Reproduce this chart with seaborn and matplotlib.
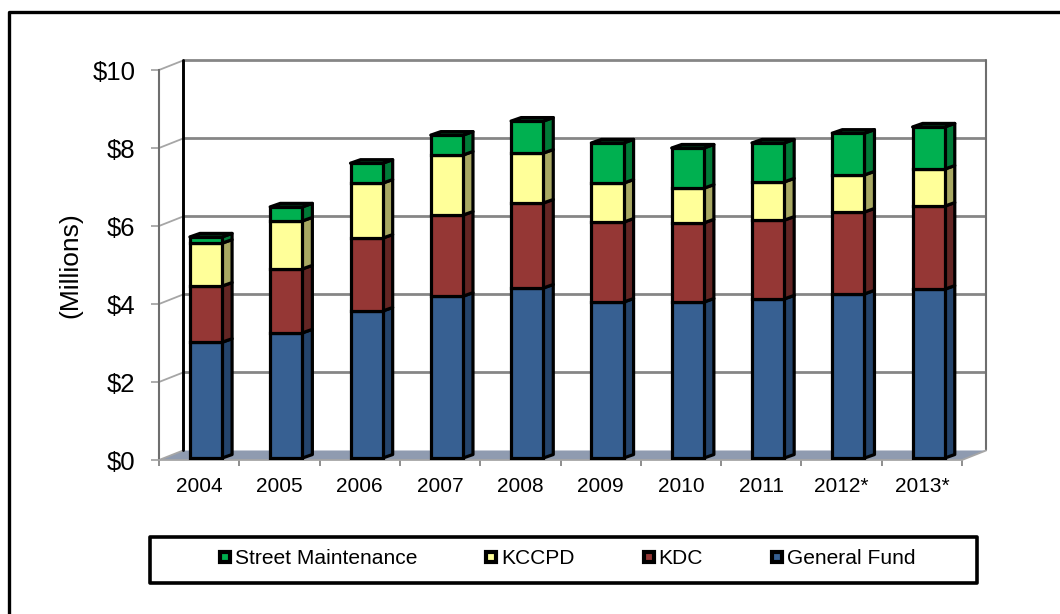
import numpy as np
import pandas as pd
import seaborn as sns
import matplotlib
matplotlib.use("Agg")
import matplotlib.pyplot as plt
from matplotlib.lines import Line2D
from matplotlib.patches import Rectangle

years = ["2004", "2005", "2006", "2007", "2008", "2009", "2010", "2011", "2012*", "2013*"]
general_fund = [2.97, 3.21, 3.77, 4.15, 4.36, 4.00, 4.00, 4.08, 4.21, 4.33]
kdc = [1.44, 1.64, 1.87, 2.08, 2.18, 2.05, 2.03, 2.02, 2.10, 2.13]
kccpd = [1.10, 1.23, 1.41, 1.54, 1.28, 1.00, 0.89, 0.98, 0.95, 0.95]
street = [0.16, 0.36, 0.51, 0.51, 0.82, 1.03, 1.03, 1.00, 1.07, 1.08]
y_ticks = [0, 2, 4, 6, 8, 10]

series = [
    ("General Fund", general_fund, "#376092", "#24446C"),
    ("KDC", kdc, "#953735", "#632523"),
    ("KCCPD", kccpd, "#FFFF99", "#A8A862"),
    ("Street Maintenance", street, "#00B050", "#007A37"),
]

W, H = 1060, 614
sns.set_style("white")
plt.rcParams["font.family"] = ["Liberation Sans", "DejaVu Sans"]

fig = plt.figure(figsize=(W / 100, H / 100), dpi=100)
ax = fig.add_axes([159 / W, 1 - 460 / H, (962 - 159) / W, (460 - 70) / H])

# depth of the fake 3d box and of the bars, in data units
wall_dx, wall_dy = 0.30, 0.244
bar_dx, bar_dy = 0.125, 0.09
shift_x, shift_y = 0.085, 0.05
bar_w = 0.40
edge = 2.3
grey = "#868686"

n = len(years)
xs = np.arange(n)

# floor, back wall
ax.fill([-0.5, n - 0.5, n - 0.5 + wall_dx, -0.5 + wall_dx],
        [0, 0, wall_dy, wall_dy], color="#8F9BB0", lw=0, zorder=1, clip_on=False)
for t in y_ticks[1:]:
    ax.plot([-0.5 + wall_dx, n - 0.5 + wall_dx], [t + wall_dy] * 2, color=grey, lw=2.0,
            zorder=1, clip_on=False, solid_capstyle="butt")
for t in y_ticks:
    ax.plot([-0.5, -0.5 + wall_dx], [t, t + wall_dy], color="#A6A6A6", lw=1.3,
            zorder=1, clip_on=False)
ax.plot([-0.5 + wall_dx] * 2, [wall_dy, 10 + wall_dy], color="black", lw=2.1,
        zorder=2, clip_on=False)
ax.plot([n - 0.5 + wall_dx] * 2, [wall_dy, 10 + wall_dy], color="#6E6E6E", lw=1.5,
        zorder=1, clip_on=False)
ax.plot([n - 0.5, n - 0.5 + wall_dx], [0, wall_dy], color="#A6A6A6", lw=1.3,
        zorder=1, clip_on=False)

# stacked bars, front faces from seaborn
bottom = np.zeros(n)
for name, vals, col, dark in series:
    df = pd.DataFrame({"year": years, "value": vals})
    before = len(ax.patches)
    sns.barplot(data=df, x="year", y="value", order=years, color=col, saturation=1,
                width=bar_w, bottom=bottom + shift_y, edgecolor="black", linewidth=edge,
                ax=ax, zorder=4)
    for p in ax.patches[before:]:
        p.set_x(p.get_x() + shift_x)
        p.set_facecolor(col)
    # side faces
    top = bottom + np.array(vals)
    for i in range(n):
        x0 = xs[i] + shift_x + bar_w / 2
        y0, y1 = bottom[i] + shift_y, top[i] + shift_y
        ax.fill([x0, x0 + bar_dx, x0 + bar_dx, x0], [y0, y0 + bar_dy, y1 + bar_dy, y1],
                facecolor=dark, edgecolor="black", lw=edge, zorder=3, joinstyle="round")
    bottom = top

# top faces, they get the colour of the top segment
for i in range(n):
    x0 = xs[i] + shift_x - bar_w / 2
    y1 = bottom[i] + shift_y
    ax.fill([x0, x0 + bar_w, x0 + bar_w + bar_dx, x0 + bar_dx],
            [y1, y1, y1 + bar_dy, y1 + bar_dy],
            facecolor=series[-1][3], edgecolor="black", lw=edge, zorder=3, joinstyle="round")

ax.set_xlim(-0.5, n - 0.5)
ax.set_ylim(0, 10)
ax.set_yticks(y_ticks)
ax.set_yticklabels(["$" + str(t) for t in y_ticks], fontsize=18.5)
ax.set_xticks(np.arange(n + 1) - 0.5, minor=True)
ax.set_xticks(xs)
ax.set_xticklabels(years, fontsize=15)
ax.tick_params(axis="x", which="major", length=0, pad=12, labelcolor="black")
ax.tick_params(axis="x", which="minor", length=4, width=1.3, color=grey, direction="out", bottom=True)
ax.tick_params(axis="y", length=6, width=1.3, color="#A6A6A6", direction="out", left=True, pad=11,
               labelcolor="black")
ax.set_xlabel("")
ax.set_ylabel("(Millions)", fontsize=19, color="black")
ax.yaxis.set_label_coords(-0.095, 0.5)
ax.patch.set_alpha(0)
for side in ["top", "right"]:
    ax.spines[side].set_visible(False)
ax.spines["left"].set(color="#6E6E6E", linewidth=1.5)
ax.spines["bottom"].set(color="#A6A6A6", linewidth=1.3)

# legend, drawn reversed like the original
handles = [Line2D([], [], ls="none", marker="s", ms=7.4, mfc=col, mec="black", mew=3.0, label=name)
           for name, vals, col, dark in series[::-1]]
fig.legend(handles=handles, ncol=4, loc="center", bbox_to_anchor=(566.5 / W, 1 - 559 / H),
           frameon=False, fontsize=15.15, handlelength=0.67, handletextpad=0.12,
           columnspacing=3.2, borderpad=0, labelcolor="black")
fig.add_artist(Rectangle((149.5 / W, 1 - 582.5 / H), (977 - 149.5) / W, (582.5 - 536.5) / H,
                         transform=fig.transFigure, fill=False, ec="black", lw=2.6, joinstyle="round"))

# outer border, only the top and left sides show, they run off the picture
fig.add_artist(Line2D([9 / W, 9 / W, 1], [0, 1 - 12 / H, 1 - 12 / H],
                      transform=fig.transFigure, color="black", lw=2.4))

fig.savefig("out.png", dpi=100, facecolor="white")
